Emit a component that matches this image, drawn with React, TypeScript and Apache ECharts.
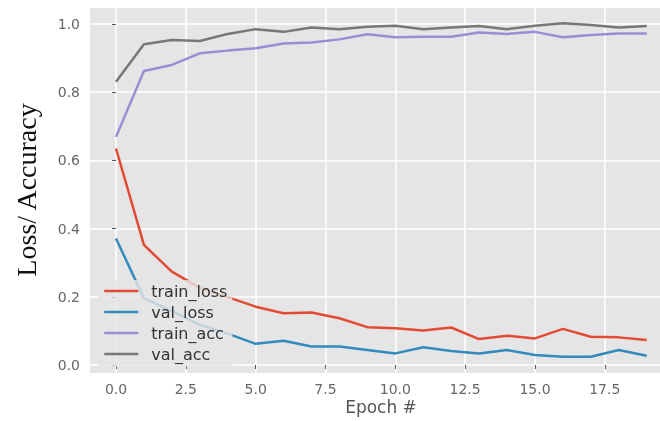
import React, { useEffect, useRef } from "react";
import * as echarts from "echarts";

const epochs = [0, 1, 2, 3, 4, 5, 6, 7, 8, 9, 10, 11, 12, 13, 14, 15, 16, 17, 18, 19];
const trainLoss = [0.635, 0.352, 0.274, 0.226, 0.199, 0.171, 0.152, 0.154, 0.137, 0.111, 0.108, 0.101, 0.110, 0.076, 0.086, 0.078, 0.106, 0.083, 0.081, 0.073];
const valLoss = [0.371, 0.196, 0.158, 0.118, 0.092, 0.062, 0.071, 0.054, 0.054, 0.044, 0.034, 0.052, 0.041, 0.034, 0.044, 0.029, 0.024, 0.024, 0.044, 0.027];
const trainAcc = [0.669, 0.862, 0.880, 0.914, 0.922, 0.929, 0.943, 0.946, 0.955, 0.970, 0.961, 0.963, 0.963, 0.975, 0.971, 0.977, 0.961, 0.968, 0.972, 0.972];
const valAcc = [0.831, 0.941, 0.953, 0.950, 0.971, 0.985, 0.977, 0.990, 0.985, 0.992, 0.995, 0.985, 0.990, 0.994, 0.985, 0.995, 1.002, 0.997, 0.990, 0.994];

const xTicks = [0, 2.5, 5, 7.5, 10, 12.5, 15, 17.5];
const yTicks = [0, 0.2, 0.4, 0.6, 0.8, 1.0];
const seriesNames = ["train_loss", "val_loss", "train_acc", "val_acc"];
const seriesColors = ["#E24A33", "#348ABD", "#988ED5", "#777777"];
const xTitle = "Epoch #";
const yTitle = "Loss/ Accuracy";

export default function App() {
  const ref = useRef<HTMLDivElement>(null);
  useEffect(() => {
    if (!ref.current) return;
    const chart = echarts.init(ref.current, undefined, { renderer: "svg" });
    const allData = [trainLoss, valLoss, trainAcc, valAcc];
    chart.setOption({
      animation: false,
      grid: {
        left: 90,
        right: 0,
        top: 8,
        bottom: 48,
        show: true,
        backgroundColor: "#E5E5E5",
        borderWidth: 0,
      },
      xAxis: {
        type: "value",
        min: -0.931,
        max: 19.477,
        axisLine: { show: false },
        axisTick: { show: true, length: 4, customValues: xTicks, lineStyle: { color: "#555" } },
        axisLabel: {
          customValues: xTicks,
          formatter: (v: number) => v.toFixed(1),
          color: "#666",
          fontSize: 14,
          fontFamily: "DejaVu Sans",
          margin: 9,
        },
        splitLine: { show: true, lineStyle: { color: "#FFFFFF", width: 1.5 } },
      },
      yAxis: {
        type: "value",
        min: -0.0235,
        max: 1.047,
        axisLine: { show: false },
        axisTick: { show: true, length: 4, customValues: yTicks, lineStyle: { color: "#555" } },
        axisLabel: {
          customValues: yTicks,
          formatter: (v: number) => v.toFixed(1),
          color: "#666",
          fontSize: 14,
          fontFamily: "DejaVu Sans",
          margin: 10,
        },
        splitLine: { show: true, lineStyle: { color: "#FFFFFF", width: 1.5 } },
      },
      legend: {
        left: 98,
        top: 280,
        orient: "vertical",
        data: seriesNames,
        backgroundColor: "rgba(229,229,229,0.8)",
        borderWidth: 0,
        padding: [3, 5, 5, 5],
        itemWidth: 34,
        itemHeight: 14,
        itemGap: 5,
        itemStyle: { opacity: 0 },
        lineStyle: { width: 2.5 },
        textStyle: { fontSize: 16, color: "#333", fontFamily: "DejaVu Sans", padding: [0, 0, 0, 8] },
      },
      graphic: [
        {
          type: "text",
          x: 26,
          y: 190,
          rotation: Math.PI / 2,
          style: {
            text: yTitle,
            font: "28px 'Liberation Serif'",
            fill: "#111",
            align: "center",
            verticalAlign: "middle",
          },
        },
        {
          type: "text",
          x: 381,
          y: 407,
          style: {
            text: xTitle,
            font: "17px 'DejaVu Sans'",
            fill: "#555",
            align: "center",
            verticalAlign: "middle",
          },
        },
      ],
      series: seriesNames.map((name, k) => ({
        name,
        type: "line",
        data: epochs.map((e, i) => [e, allData[k][i]]),
        symbol: "none",
        lineStyle: { color: seriesColors[k], width: 2.5 },
        itemStyle: { color: seriesColors[k] },
        z: 2 + k,
      })),
    });
    return () => chart.dispose();
  }, []);
  return <div ref={ref} style={{ position: "fixed", left: 0, top: 0, width: 660, height: 421 }} />;
}
